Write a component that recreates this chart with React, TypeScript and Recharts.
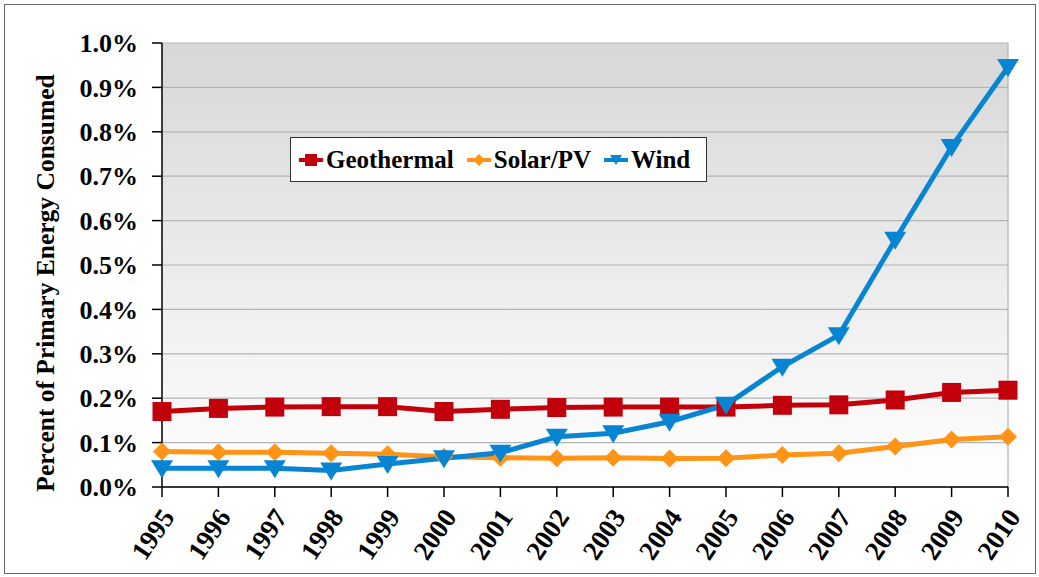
import { CartesianGrid, Legend, Line, LineChart, ReferenceLine, XAxis, YAxis } from "recharts";

const years = ["1995", "1996", "1997", "1998", "1999", "2000", "2001", "2002", "2003", "2004", "2005", "2006", "2007", "2008", "2009", "2010"];
const geothermal = [0.170, 0.177, 0.180, 0.181, 0.181, 0.170, 0.175, 0.179, 0.180, 0.180, 0.180, 0.184, 0.185, 0.196, 0.213, 0.218];
const solarPV = [0.080, 0.078, 0.078, 0.076, 0.074, 0.068, 0.066, 0.065, 0.066, 0.064, 0.065, 0.072, 0.076, 0.091, 0.107, 0.113];
const wind = [0.042, 0.042, 0.042, 0.037, 0.052, 0.065, 0.077, 0.113, 0.121, 0.147, 0.185, 0.271, 0.342, 0.557, 0.766, 0.946];
const yTicks = [0, 0.1, 0.2, 0.3, 0.4, 0.5, 0.6, 0.7, 0.8, 0.9, 1.0];

const data = years.map((year, i) => ({
  year,
  geothermal: geothermal[i],
  solar: solarPV[i],
  wind: wind[i],
}));

const RED = "#c2000b";
const ORANGE = "#ff9416";
const BLUE = "#0784d2";
const FONT = "Liberation Serif, Tinos, DejaVu Serif, serif";

const SquareDot = (props: any) => {
  const { cx, cy } = props;
  if (cx == null || cy == null) return null;
  return <rect x={cx - 9.5} y={cy - 9.5} width={19} height={19} fill={RED} />;
};

const DiamondDot = (props: any) => {
  const { cx, cy } = props;
  if (cx == null || cy == null) return null;
  return <polygon points={`${cx},${cy - 9} ${cx + 9},${cy} ${cx},${cy + 9} ${cx - 9},${cy}`} fill={ORANGE} />;
};

const TriangleDot = (props: any) => {
  const { cx, cy } = props;
  if (cx == null || cy == null) return null;
  return <polygon points={`${cx - 11},${cy - 8} ${cx + 11},${cy - 8} ${cx},${cy + 10}`} fill={BLUE} />;
};

const XTick = (props: any) => {
  const { x, y, payload } = props;
  return (
    <g transform={`translate(${x + 6},${y + 13})`}>
      <text x={0} y={0} dy={9} textAnchor="end" transform="rotate(-56)" style={{ fontFamily: FONT }} fontWeight="bold" fontSize={27} fill="#000">
        {payload.value}
      </text>
    </g>
  );
};

const legendItems = [
  { name: "Geothermal", color: RED, shape: "square" },
  { name: "Solar/PV", color: ORANGE, shape: "diamond" },
  { name: "Wind", color: BLUE, shape: "triangle" },
];

const LegendBox = () => (
  <div
    style={{
      width: 417,
      height: 45,
      boxSizing: "border-box",
      border: "1.5px solid #333",
      background: "#fff",
      display: "flex",
      alignItems: "center",
      paddingLeft: 8,
      fontFamily: FONT,
      fontWeight: "bold",
      fontSize: 25,
    }}
  >
    {legendItems.map((it) => (
      <div key={it.name} style={{ display: "flex", alignItems: "center", marginRight: 13 }}>
        <svg width={24} height={18} style={{ marginRight: 3 }}>
          <line x1={0} y1={9} x2={24} y2={9} stroke={it.color} strokeWidth={4} />
          {it.shape === "square" && <rect x={6} y={3} width={12} height={12} fill={it.color} />}
          {it.shape === "diamond" && <polygon points="12,3 18,9 12,15 6,9" fill={it.color} />}
          {it.shape === "triangle" && <polygon points="6,4 18,4 12,14" fill={it.color} />}
        </svg>
        <span>{it.name}</span>
      </div>
    ))}
  </div>
);

const YTitle = () => (
  <text x={40} y={278} transform="rotate(-90 40 278)" textAnchor="middle" dominantBaseline="central" style={{ fontFamily: FONT }} fontWeight="bold" fontSize={25.5} fill="#000">
    Percent of Primary Energy Consumed
  </text>
);

const App = () => {
  return (
    <div style={{ position: "absolute", left: 4, top: 4, width: 1030, height: 568, border: "1px solid #666", background: "#fff" }}>
      <LineChart width={1030} height={568} data={data} margin={{ top: 38, right: 27, left: 0, bottom: 0 }}>
        <defs>
          <linearGradient id="plotBg" x1="0" y1="0" x2="0" y2="1">
            <stop offset="0%" stopColor="#d7d7d7" />
            <stop offset="100%" stopColor="#ffffff" />
          </linearGradient>
        </defs>
        <CartesianGrid vertical={false} stroke="#b4b4b4" strokeWidth={1.2} fill="url(#plotBg)" fillOpacity={1} />
        <XAxis
          dataKey="year"
          height={86}
          axisLine={{ stroke: "#000", strokeWidth: 1.5 }}
          tickLine={{ stroke: "#000", strokeWidth: 1.5 }}
          tickSize={10}
          interval={0}
          tick={<XTick />}
        />
        <YAxis
          width={157}
          domain={[0, 1]}
          ticks={yTicks}
          interval={0}
          axisLine={{ stroke: "#000", strokeWidth: 1.5 }}
          tickLine={{ stroke: "#000", strokeWidth: 1.5 }}
          tickSize={10}
          tickMargin={14}
          tickFormatter={(v: number) => v.toFixed(1) + "%"}
          tick={{ style: { fontFamily: FONT }, fontWeight: "bold", fontSize: 26, fill: "#000" }}
          label={<YTitle />}
        />
        <ReferenceLine x="2010" stroke="#b4b4b4" strokeWidth={1.2} />
        <Legend
          layout="horizontal"
          verticalAlign="middle"
          align="center"
          content={<LegendBox />}
          wrapperStyle={{ position: "absolute", left: 285, top: 132, width: 417, height: 45 }}
        />
        <Line dataKey="geothermal" name="Geothermal" stroke={RED} strokeWidth={5} dot={<SquareDot />} activeDot={false} isAnimationActive={false} />
        <Line dataKey="solar" name="Solar/PV" stroke={ORANGE} strokeWidth={5} dot={<DiamondDot />} activeDot={false} isAnimationActive={false} />
        <Line dataKey="wind" name="Wind" stroke={BLUE} strokeWidth={5} dot={<TriangleDot />} activeDot={false} isAnimationActive={false} />
      </LineChart>
    </div>
  );
};

export default App;
